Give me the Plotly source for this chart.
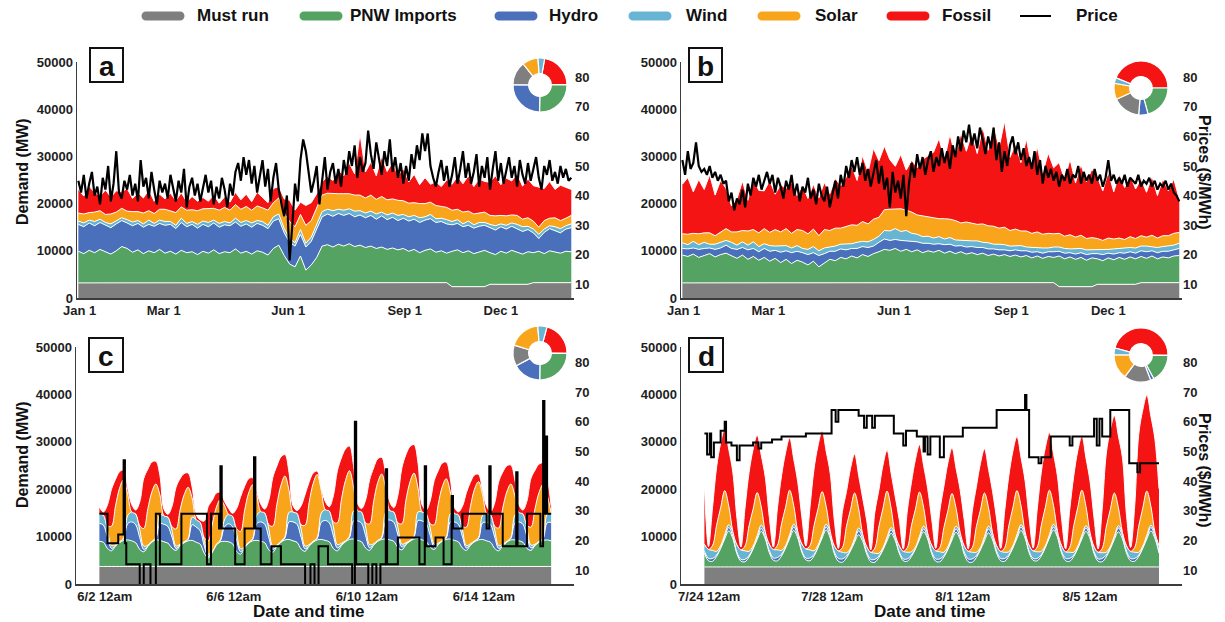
import plotly.graph_objects as go

W, H = 1225, 622
FONT = "Liberation Sans, Arial, sans-serif"

names = ["Must run", "PNW Imports", "Hydro", "Wind", "Solar", "Fossil"]
colors = ["#7f7f7f", "#55a362", "#4a6fbb", "#67b5d3", "#f8a51b", "#f41414"]
PRICE_COLOR = "#000000"

# ---------------- panel a / b : whole year, sampled every 4 days ----------------
days = list(range(0, 365, 4))          # 92 samples
price_days = list(range(0, 365, 2))    # 183 samples
year_ticks = [1, 63, 155, 241, 312]
year_labels = ["Jan 1", "Mar 1", "Jun 1", "Sep 1", "Dec 1"]
demand_ticks = [0, 10000, 20000, 30000, 40000, 50000]
demand_labels = ["0", "10000", "20000", "30000", "40000", "50000"]
price_ticks = [10, 20, 30, 40, 50, 60, 70, 80]

must_run_year = [
    3200, 3200, 3200, 3200, 3200, 3200, 3200, 3200,
    3350, 3350, 3350, 3350, 3350, 3350, 3350,
    3350, 3350, 3350, 3350, 3350, 3350, 3350, 3350,
    3350, 3350, 3350, 3350, 3350, 3350, 3350,
    3350, 3350, 3350, 3350, 3350, 3350, 3350, 3350,
    3350, 3350, 3350, 3350, 3350, 3350, 3350, 3350,
    3350, 3350, 3350, 3350, 3350, 3350, 3350,
    3350, 3350, 3350, 3350, 3350, 3350, 3350, 3350,
    3250, 3250, 3250, 3250, 3250, 3250, 3250, 3250,
    2400, 2400, 2400, 2400, 2400, 2400, 2400,
    2900, 2900, 2900, 2900, 2900, 2900, 2900, 2900,
    3250, 3250, 3250, 3250, 3250, 3250, 3250, 3250,
]

pnw_a = [
    6700, 6200, 6900, 6400, 7100, 6600, 6100, 6800,
    7550, 7150, 6350, 6850, 6050, 6650, 6250,
    6950, 6150, 6550, 5950, 6750, 6250, 6450, 5850,
    6550, 6150, 6850, 6050, 6450, 6250, 7050,
    6150, 6550, 5950, 6650, 6350, 5750, 7150, 7850,
    5650, 3850, 3250, 5550, 2550, 3650, 5250, 7650,
    7950, 7450, 8050, 7650, 8150, 7550, 7850,
    7350, 7650, 7150, 7450, 6950, 7250, 6850, 7150,
    6650, 7050, 6350, 6850, 7150, 6450, 6750, 6250,
    7500, 7800, 7200, 7600, 7000, 7400, 7700,
    6700, 6300, 7000, 6600, 7200, 6800, 6400, 6900,
    6350, 6650, 6150, 6750, 6450, 6250, 6650, 6550,
]
hydro_a = [
    5700, 5700, 5800, 5700, 5700, 5600, 5600, 5700,
    5500, 5400, 5600, 5600, 5600, 5600, 5600,
    5500, 5900, 5700, 5400, 5900, 5500, 5800, 5600,
    5700, 5600, 5700, 5600, 5700, 5700, 5700,
    5700, 5800, 5700, 5800, 5700, 5600, 5800, 5600,
    4800, 4600, 4400, 4600, 4900, 5000, 5900, 6200,
    6500, 6500, 6500, 6500, 6400, 6300, 6400,
    6300, 6500, 6200, 6600, 6300, 6500, 6200, 6400,
    6400, 6400, 6400, 6400, 6400, 6300, 6200, 6200,
    5600, 5600, 5500, 5400, 5400, 5400, 5300,
    5300, 5200, 5200, 5100, 5100, 5000, 4800, 4700,
    4200, 2700, 4500, 4700, 4600, 4300, 4700, 5100,
]
wind_a = [
    700, 800, 600, 900, 700, 600, 800, 700,
    600, 700, 800, 600, 700, 900, 600,
    700, 800, 600, 700, 900, 700, 600, 800,
    700, 900, 600, 800, 700, 600, 800,
    800, 700, 900, 600, 800, 700, 900, 1000,
    900, 800, 700, 1000, 800, 900, 1000, 1100,
    1000, 1200, 900, 1100, 1000, 1200, 900,
    1000, 900, 1100, 800, 1000, 900, 1100, 800,
    900, 800, 1000, 700, 900, 800, 700, 900,
    700, 800, 600, 900, 700, 800, 600,
    700, 900, 600, 800, 700, 900, 1000, 700,
    800, 900, 700, 600, 800, 900, 700, 800,
]
solar_a = [
    1700, 1900, 1600, 2000, 1800, 1700, 2100, 1800,
    2000, 1800, 2200, 1900, 2300, 2000, 2100,
    2300, 2600, 2200, 2700, 2400, 2800, 2500, 2900,
    2600, 2900, 2500, 2800, 3000, 2700, 2900,
    2800, 3000, 2700, 3100, 2900, 3200, 3000, 3400,
    3300, 3600, 3400, 3200, 3800, 3500, 3600, 3500,
    3400, 3600, 3300, 3500, 3200, 3400, 3300,
    3200, 3400, 3100, 3300, 3200, 3000, 3200, 2900,
    2900, 2700, 3000, 2800, 2600, 2800, 2500, 2600,
    2400, 2200, 2500, 2100, 2300, 2000, 2200,
    1900, 2100, 1800, 2000, 1700, 1900, 1600, 1800,
    1700, 1500, 1800, 1600, 1900, 1700, 1600, 1800,
]
fossil_a = [
    5000, 3800, 5500, 4200, 3000, 5200, 3600, 4500,
    3500, 4800, 2800, 4000, 3200, 4400, 2600,
    3200, 2200, 3800, 2500, 3000, 1800, 2800, 2000,
    2400, 1600, 2800, 1500, 2200, 1700, 2600,
    2000, 2600, 1800, 2900, 2200, 1600, 3000, 2400,
    3000, 4500, 3500, 2600, 4200, 3800, 3000, 2800,
    3500, 2800, 5000, 3800, 6500, 4500, 13000,
    5500, 7000, 5000, 8500, 6000, 7800, 5200, 6800,
    4500, 6000, 4000, 5500, 3800, 5000, 4200, 5800,
    5500, 7000, 6000, 7500, 5800, 7200, 6500,
    7000, 8500, 6500, 8000, 7200, 8800, 7000, 8200,
    7500, 8500, 6800, 7800, 6000, 7500, 6500, 5500,
]
price_a = [
    45, 41, 47, 39, 44, 48, 40, 43, 37, 46, 42, 50, 38, 44, 55, 41,
    39, 45, 42, 47, 40, 44, 38, 52, 43, 46, 39, 48, 42, 37, 45, 41,
    44, 39, 47, 42, 38, 45, 41, 49, 36, 43, 46, 40, 44, 38, 42, 47,
    41, 45, 37, 43, 39, 46, 42, 36, 44, 40, 48, 51, 45, 53, 47, 52,
    44, 50, 41, 47, 52, 43, 49, 38, 46, 51, 42, 37, 33, 40, 18, 30,
    44, 38, 52, 59, 55, 48, 41, 45, 50, 37, 46, 53, 42, 48, 51, 44,
    49, 43, 52, 47, 55, 50, 57, 46, 53, 48, 51, 62, 54, 49, 58, 52,
    47, 55, 50, 59, 48, 53, 46, 51, 44, 50, 45, 54, 49, 57, 52, 61,
    55, 61, 50, 46, 43, 48, 52, 45, 50, 43, 47, 53, 44, 49, 55, 46,
    51, 44, 48, 54, 43, 50, 46, 53, 42, 49, 55, 45, 51, 44, 48, 53,
    46, 50, 43, 52, 47, 44, 51, 45, 49, 53, 46, 42, 50, 47, 52, 45,
    48, 44, 50, 46, 49, 45, 46,
]

pnw_b = [
    5900, 5600, 6100, 5400, 5800, 6200, 5500, 6000,
    6150, 5650, 5050, 5750, 4850, 5450, 4650,
    5250, 4450, 5050, 4150, 4850, 3950, 4650, 4250,
    3650, 4450, 3250, 4150, 4850, 4550, 5250,
    4950, 5550, 5150, 5850, 5450, 6050, 6450, 6950,
    6750, 7150, 6550, 6950, 6450, 6850, 6250, 6650,
    6350, 6750, 6150, 6550, 6050, 6450, 5950,
    6250, 5850, 6150, 5650, 5950, 5550, 5850, 5450,
    5850, 5450, 5750, 5250, 5650, 5150, 5550, 5350,
    6500, 5900, 6300, 5800, 6200, 5600, 6100,
    5400, 5000, 5600, 5200, 5700, 5300, 5800, 5400,
    5550, 5150, 5650, 5050, 5450, 5250, 5650, 5750,
]
hydro_b = [
    1400, 1600, 1300, 1700, 1500, 1200, 1600, 1400,
    1700, 1500, 1900, 1600, 2000, 1700, 1800,
    1900, 2100, 1700, 2200, 1800, 2300, 1900, 2000,
    2200, 1800, 2400, 1900, 1700, 2000, 1800,
    1900, 1600, 2000, 1700, 1900, 1600, 2000, 2200,
    2100, 1900, 2300, 1800, 2100, 1700, 2000, 1600,
    1700, 1400, 1800, 1500, 1600, 1300, 1500,
    1300, 1500, 1200, 1400, 1100, 1300, 1000, 1200,
    1100, 1300, 1000, 1200, 900, 1100, 1000, 1200,
    1000, 1200, 900, 1100, 1000, 1200, 900,
    1100, 1300, 1000, 1200, 1000, 1300, 1100, 1200,
    1200, 1400, 1100, 1300, 1200, 1400, 1300, 1500,
]
wind_b = [
    1200, 900, 1400, 1000, 1300, 800, 1100, 1200,
    1000, 1300, 900, 1200, 1000, 1400, 1100,
    1000, 1200, 900, 1300, 1100, 1000, 1200, 900,
    1100, 1300, 1000, 1200, 900, 1100, 1000,
    1200, 1000, 1300, 1100, 1200, 1400, 1300, 1800,
    2000, 2300, 1900, 2200, 1800, 1600, 1400, 1500,
    1300, 1500, 1200, 1400, 1300, 1100, 1300,
    1200, 1400, 1100, 1300, 1000, 1200, 1100, 1000,
    900, 1100, 800, 1000, 900, 1100, 800, 1000,
    900, 1000, 800, 1100, 900, 1000, 800,
    900, 1000, 800, 1100, 900, 1000, 900, 1100,
    1000, 1200, 900, 1100, 1000, 1200, 1000, 1100,
]
solar_b = [
    1900, 2200, 1700, 2300, 2000, 2400, 1800, 2100,
    2500, 2200, 2800, 2400, 3000, 2600, 2900,
    3200, 2800, 3500, 3000, 3600, 3100, 3400, 3800,
    3300, 3700, 3200, 3900, 3500, 3800, 3400,
    3700, 4000, 3600, 4200, 3800, 4300, 4000, 4400,
    4600, 4200, 4800, 4300, 4500, 4100, 4400, 4000,
    4200, 3800, 4300, 3900, 4100, 3700, 4000,
    3800, 3500, 3900, 3600, 3800, 3400, 3700, 3300,
    3500, 3100, 3400, 3000, 3300, 2900, 3100, 2800,
    2900, 2600, 3000, 2500, 2800, 2400, 2600,
    2300, 2000, 2400, 2100, 2200, 1900, 2300, 2000,
    2200, 1900, 2400, 2000, 2300, 2100, 2500, 2300,
]
fossil_b = [
    10500, 12000, 8800, 11500, 9200, 12300, 8600, 11000,
    8500, 5500, 7000, 10500, 6500, 11000, 9000,
    8000, 11000, 7500, 10000, 8500, 10800, 7200, 9500,
    7500, 9500, 8000, 10000, 7800, 10500, 9000,
    10500, 12500, 9500, 14000, 11000, 15000, 12000, 13500,
    10500, 9000, 11500, 8500, 11000, 10000, 12000, 13000,
    14000, 17000, 12500, 18000, 13500, 19000, 15000,
    19000, 15000, 20500, 16000, 21500, 17000, 22500, 15500,
    18000, 14500, 19500, 14000, 18000, 13000, 17000, 14000,
    15000, 12000, 16000, 11500, 15000, 12000, 14500,
    13000, 10500, 14000, 10000, 13500, 11000, 13000, 10500,
    12000, 9500, 12500, 9000, 12000, 9500, 11500, 7000,
]
price_b = [
    52, 47, 55, 49, 51, 58, 50, 48, 49, 47, 50, 46, 48, 45, 47, 44,
    45, 38, 41, 35, 39, 37, 42, 36, 44, 40, 46, 43, 47, 42, 45, 48,
    44, 47, 41, 46, 43, 39, 45, 42, 47, 40, 44, 38, 43, 41, 46, 39,
    42, 37, 44, 40, 38, 43, 36, 41, 45, 39, 47, 43, 50, 46, 52, 48,
    53, 47, 51, 45, 49, 43, 47, 52, 44, 50, 42, 46, 36, 48, 41, 45,
    39, 47, 33, 44, 51, 46, 54, 49, 53, 47, 52, 55, 48, 53, 50, 56,
    51, 55, 49, 57, 53, 60, 55, 62, 58, 64, 57, 61, 56, 63, 59, 54,
    60, 56, 63, 52, 58, 48, 55, 50, 57, 60, 54, 58, 52, 56, 50, 53,
    49, 55, 47, 52, 44, 50, 46, 49, 45, 48, 43, 47, 45, 49, 44, 47,
    46, 50, 44, 48, 45, 47, 44, 49, 45, 47, 43, 46, 52, 45, 47, 44,
    46, 44, 47, 43, 46, 45, 44, 47, 43, 45, 44, 46, 43, 45, 42, 44,
    43, 45, 42, 44, 41, 40, 38,
]

# ---------------- panel c / d : two weeks, every 3 hours ----------------
hours = list(range(0, 337, 3))   # 113 samples
c_ticks = [4, 100, 199, 286]
c_labels = ["6/2 12am", "6/6 12am", "6/10 12am", "6/14 12am"]
d_ticks = [3.5, 94.5, 191, 285]
d_labels = ["7/24 12am", "7/28 12am", "8/1 12am", "8/5 12am"]

must_c = [
    3700, 3700, 3700, 3700, 3700, 3700, 3700, 3700,
    3700, 3700, 3700, 3700, 3700, 3700, 3700, 3700,
    3700, 3700, 3700, 3700, 3700, 3700, 3700, 3700,
    3700, 3700, 3700, 3700, 3700, 3700, 3700, 3700,
    3700, 3700, 3700, 3700, 3700, 3700, 3700, 3700,
    3700, 3700, 3700, 3700, 3700, 3700, 3700, 3700,
    3700, 3700, 3700, 3700, 3700, 3700, 3700, 3700,
    3700, 3700, 3700, 3700, 3700, 3700, 3700, 3700,
    3700, 3700, 3700, 3700, 3700, 3700, 3700, 3700,
    3700, 3700, 3700, 3700, 3700, 3700, 3700, 3700,
    3700, 3700, 3700, 3700, 3700, 3700, 3700, 3700,
    3700, 3700, 3700, 3700, 3700, 3700, 3700, 3700,
    3700, 3700, 3700, 3700, 3700, 3700, 3700, 3700,
    3700, 3700, 3700, 3700, 3700, 3700, 3700, 3700,
    3700,
]
pnw_c = [
    5300, 5100, 3800, 3300, 4300, 5000, 5500, 5600,
    5400, 5000, 3600, 3100, 4200, 5100, 5600, 5500,
    5200, 4900, 3900, 3400, 4400, 5000, 5400, 5500,
    5100, 4700, 2800, 1800, 3000, 4500, 5200, 5300,
    5200, 4800, 3200, 2600, 3900, 4900, 5400, 5500,
    5300, 5000, 3500, 3000, 4200, 5100, 5600, 5700,
    5400, 5100, 3700, 3200, 4300, 5100, 5600, 5700,
    5500, 5200, 3800, 3300, 4400, 5200, 5700, 5800,
    5500, 5200, 3900, 3400, 4500, 5300, 5700, 5800,
    5600, 5300, 4000, 3500, 4600, 5300, 5800, 5900,
    5600, 5300, 4100, 3600, 4600, 5300, 5700, 5800,
    5500, 5200, 3900, 3400, 4500, 5200, 5600, 5700,
    5400, 5100, 3800, 3300, 4400, 5100, 5600, 5600,
    5400, 5100, 3800, 3400, 4400, 5100, 5500, 5600,
    5400,
]
hydro_c = [
    3800, 3600, 2400, 500, 100, 100, 300, 3400,
    4000, 3800, 2500, 500, 100, 100, 300, 3500,
    3700, 3500, 2300, 400, 100, 100, 300, 3300,
    3200, 2800, 1500, 300, 100, 100, 200, 3000,
    3800, 3600, 2400, 500, 100, 100, 300, 3500,
    4100, 3900, 2600, 600, 100, 100, 400, 3700,
    4000, 3800, 2500, 500, 100, 100, 300, 3600,
    4200, 4000, 2700, 600, 200, 100, 400, 3800,
    4100, 3900, 2600, 500, 100, 100, 300, 3700,
    4200, 4000, 2700, 600, 200, 100, 400, 3800,
    4000, 3800, 2500, 500, 100, 100, 300, 3600,
    3900, 3700, 2400, 500, 100, 100, 300, 3500,
    3900, 3700, 2400, 500, 100, 100, 300, 3500,
    4000, 3800, 2500, 500, 100, 100, 300, 3600,
    3900,
]
wind_c = [
    1900, 2100, 1500, 600, 200, 100, 200, 1700,
    2100, 2300, 1700, 700, 200, 100, 200, 1900,
    1800, 2000, 1400, 500, 200, 100, 200, 1600,
    1600, 1800, 1200, 500, 100, 100, 200, 1500,
    2000, 2200, 1600, 600, 200, 100, 200, 1800,
    2200, 2400, 1800, 700, 200, 100, 300, 2000,
    2100, 2300, 1700, 600, 200, 100, 200, 1900,
    2300, 2500, 1900, 700, 300, 100, 300, 2100,
    2200, 2400, 1800, 700, 200, 100, 200, 2000,
    2000, 2200, 1600, 600, 200, 100, 200, 1800,
    1900, 2100, 1500, 600, 200, 100, 200, 1700,
    1800, 2000, 1400, 500, 200, 100, 200, 1600,
    1900, 2100, 1500, 600, 200, 100, 200, 1700,
    2000, 2200, 1600, 600, 200, 100, 200, 1800,
    2000,
]
solar_c = [
    0, 0, 900, 4100, 8200, 11300, 12300, 4600,
    0, 0, 800, 3700, 7600, 10400, 11300, 4200,
    0, 0, 800, 3600, 7200, 9900, 10800, 4000,
    0, 0, 600, 2800, 5700, 7800, 8500, 3100,
    0, 0, 800, 3700, 7600, 10400, 11300, 4200,
    0, 0, 900, 4200, 8600, 11800, 12800, 4700,
    0, 0, 900, 4400, 8900, 12200, 13300, 4900,
    0, 0, 1000, 4600, 9200, 12700, 13800, 5100,
    0, 0, 900, 4400, 8900, 12200, 13300, 4900,
    0, 0, 900, 4300, 9000, 12300, 13300, 5000,
    0, 0, 900, 4100, 8200, 11300, 12300, 4600,
    0, 0, 800, 3900, 7900, 10900, 11800, 4400,
    0, 0, 800, 3700, 7600, 10400, 11300, 4200,
    0, 0, 800, 3800, 7500, 10300, 11300, 4100,
    0,
]
fossil_c = [
    1500, 700, 4400, 7800, 5600, 3500, 2000, 1300,
    1600, 800, 5000, 10600, 8400, 6300, 4800, 4100,
    1400, 600, 4300, 8800, 6600, 4500, 3000, 2300,
    1000, 500, 3500, 7300, 5100, 3000, 1500, 800,
    1300, 600, 4200, 7300, 5100, 3000, 1500, 800,
    1600, 800, 5200, 10300, 8100, 6000, 4500, 3800,
    1300, 600, 4000, 6500, 4300, 2200, 700, 500,
    1700, 900, 5500, 11000, 8800, 6700, 5200, 4500,
    1500, 700, 4800, 9300, 7100, 5000, 3500, 2800,
    1800, 900, 5800, 11800, 9600, 7500, 6000, 5300,
    1500, 700, 4800, 9300, 7100, 5000, 3500, 2800,
    1300, 600, 4200, 7300, 5100, 3000, 1500, 800,
    1500, 700, 4900, 9800, 7600, 5500, 4000, 3300,
    1600, 800, 5100, 10300, 8100, 6000, 4500, 3800,
    1500,
]
price_c_hours = [0, 6, 14, 18, 19, 20, 30, 33, 38, 42, 45, 61, 80, 83, 89, 90, 91,
                 101, 108, 115, 116, 120, 128, 135, 153, 157, 160, 163, 170, 188,
                 190, 191, 200, 203, 206, 209, 213, 214, 222, 238, 242, 243, 250,
                 256, 262, 263, 270, 288, 290, 291, 300, 310, 311, 318, 328, 330,
                 331, 332, 333, 336]
price_c = [29, 19, 22, 47, 19, 12, 5, 12, 5, 29, 12, 29, 12, 29, 24, 45, 24,
           12, 24, 48, 24, 12, 18, 12, 5, 12, 5, 18, 12, 5,
           60, 12, 5, 12, 5, 12, 44, 12, 21, 12, 45, 18, 21,
           12, 35, 24, 29, 24, 45, 29, 18, 43, 18, 29, 18, 67,
           29, 55, 29, 29]

must_d = [
    3600, 3600, 3600, 3600, 3600, 3600, 3600, 3600,
    3600, 3600, 3600, 3600, 3600, 3600, 3600, 3600,
    3600, 3600, 3600, 3600, 3600, 3600, 3600, 3600,
    3600, 3600, 3600, 3600, 3600, 3600, 3600, 3600,
    3600, 3600, 3600, 3600, 3600, 3600, 3600, 3600,
    3600, 3600, 3600, 3600, 3600, 3600, 3600, 3600,
    3600, 3600, 3600, 3600, 3600, 3600, 3600, 3600,
    3600, 3600, 3600, 3600, 3600, 3600, 3600, 3600,
    3600, 3600, 3600, 3600, 3600, 3600, 3600, 3600,
    3600, 3600, 3600, 3600, 3600, 3600, 3600, 3600,
    3600, 3600, 3600, 3600, 3600, 3600, 3600, 3600,
    3600, 3600, 3600, 3600, 3600, 3600, 3600, 3600,
    3600, 3600, 3600, 3600, 3600, 3600, 3600, 3600,
    3600, 3600, 3600, 3600, 3600, 3600, 3600, 3600,
    3600,
]
pnw_d = [
    2900, 1300, 1200, 2200, 3900, 5900, 7600, 6000,
    2800, 1200, 1100, 2100, 3800, 5800, 7500, 5900,
    3000, 1400, 1300, 2300, 4000, 6000, 7700, 6100,
    3100, 1500, 1300, 2300, 4100, 6100, 7800, 6100,
    2800, 1200, 1000, 1900, 3400, 5200, 6800, 5400,
    2700, 1100, 1000, 2000, 3600, 5500, 7100, 5600,
    2900, 1300, 1200, 2200, 3800, 5800, 7400, 5900,
    2800, 1200, 1100, 2100, 3700, 5700, 7300, 5800,
    2700, 1100, 1000, 2000, 3600, 5500, 7200, 5700,
    2900, 1300, 1200, 2300, 4000, 6000, 7700, 6100,
    3000, 1400, 1300, 2300, 4100, 6100, 7800, 6200,
    2900, 1300, 1200, 2200, 3900, 5900, 7500, 6000,
    2800, 1200, 1100, 2100, 3800, 5800, 7400, 5900,
    2900, 1300, 1200, 2200, 3900, 5900, 7600, 6000,
    2900,
]
hydro_d = [
    400, 500, 600, 300, 200, 400, 700, 500,
    300, 400, 500, 300, 200, 300, 600, 400,
    400, 500, 700, 400, 200, 400, 700, 500,
    300, 400, 600, 300, 100, 300, 600, 400,
    400, 600, 700, 400, 200, 400, 800, 600,
    400, 500, 600, 300, 200, 400, 700, 500,
    300, 400, 500, 300, 100, 300, 600, 400,
    400, 500, 600, 300, 200, 400, 700, 500,
    500, 600, 700, 400, 200, 500, 800, 600,
    400, 500, 600, 300, 200, 400, 700, 500,
    300, 400, 500, 300, 100, 300, 600, 400,
    400, 500, 600, 300, 200, 400, 700, 500,
    400, 500, 700, 400, 200, 400, 800, 600,
    400, 500, 600, 300, 200, 400, 700, 500,
    400,
]
wind_d = [
    1500, 1900, 1700, 800, 400, 500, 600, 1000,
    1600, 2000, 1800, 900, 400, 500, 700, 1100,
    1400, 1800, 1600, 800, 300, 400, 600, 900,
    1500, 1900, 1700, 800, 400, 500, 600, 1000,
    1300, 1600, 1400, 700, 300, 400, 600, 900,
    1200, 1500, 1300, 600, 300, 400, 500, 800,
    1300, 1600, 1400, 700, 300, 400, 600, 900,
    1400, 1700, 1500, 700, 400, 500, 600, 1000,
    1300, 1600, 1400, 700, 300, 400, 600, 900,
    1200, 1500, 1300, 600, 300, 400, 500, 800,
    1300, 1600, 1400, 700, 300, 400, 600, 900,
    1200, 1400, 1300, 600, 300, 400, 500, 800,
    1100, 1400, 1200, 600, 300, 300, 500, 800,
    1200, 1500, 1300, 600, 300, 400, 500, 800,
    1200,
]
solar_d = [
    0, 0, 1000, 5500, 8000, 9300, 4000, 0,
    0, 0, 1000, 5400, 7800, 9100, 3900, 0,
    0, 0, 1000, 5600, 8100, 9400, 4000, 0,
    0, 0, 900, 5300, 7700, 9000, 3800, 0,
    0, 0, 1000, 5600, 8200, 9600, 4100, 0,
    0, 0, 1100, 5700, 8300, 9700, 4100, 0,
    0, 0, 1000, 5500, 8000, 9300, 4000, 0,
    0, 0, 900, 5200, 7600, 8900, 3800, 0,
    0, 0, 1000, 5400, 7900, 9200, 3900, 0,
    0, 0, 1000, 5500, 8000, 9300, 4000, 0,
    0, 0, 1000, 5500, 8100, 9400, 4000, 0,
    0, 0, 1000, 5600, 8200, 9500, 4100, 0,
    0, 0, 900, 5300, 7800, 9100, 3800, 0,
    0, 0, 1000, 5500, 8000, 9300, 4000, 0,
    0,
]
fossil_d = [
    12500, 600, 8000, 12200, 13600, 13100, 11900, 12500,
    5700, 600, 8000, 11200, 12600, 12100, 10900, 11500,
    5600, 500, 7900, 10100, 11500, 11000, 9800, 10400,
    5700, 600, 8000, 11900, 13300, 12800, 11600, 12200,
    5400, 500, 7600, 7300, 8700, 8200, 7000, 7600,
    5400, 500, 7600, 7700, 9100, 8600, 7400, 8000,
    5500, 500, 7800, 9100, 10500, 10000, 8800, 9400,
    5500, 500, 7700, 8700, 10100, 9600, 8400, 9000,
    5500, 500, 7700, 8400, 9800, 9300, 8100, 8700,
    5600, 600, 7900, 10500, 11900, 11400, 10200, 10800,
    5700, 600, 8000, 11200, 12600, 12100, 10900, 11500,
    5600, 600, 7900, 10500, 11900, 11400, 10200, 10800,
    6000, 700, 8300, 15400, 16800, 16300, 15100, 15700,
    6300, 800, 8600, 19300, 20700, 20200, 19000, 19600,
    12000,
]
price_d_hours = [0, 2, 4, 5, 7, 12, 15, 16, 20, 24, 26, 36, 40, 42, 50, 57, 75, 94,
                 97, 99, 114, 118, 120, 124, 126, 137, 140, 147, 149, 157, 162, 163,
                 165, 167, 174, 177, 191, 216, 237, 238, 240, 247, 249, 256, 270,
                 272, 288, 290, 292, 294, 300, 314, 320, 322, 336]
price_d = [56, 49, 56, 48, 53, 57, 60, 53, 52, 47, 52, 53, 51, 53, 54, 55, 56, 64,
           60, 64, 62, 58, 62, 58, 62, 62, 56, 52, 57, 55, 50, 55,
           49, 55, 48, 55, 58, 64, 69, 64, 48, 46, 48, 55, 52,
           55, 61, 52, 61, 55, 64, 46, 43, 46, 46]

# donut shares: order clockwise Fossil, PNW Imports, Hydro, Must run, Solar, Wind
donut_names = ["Fossil", "PNW Imports", "Hydro", "Must run", "Solar", "Wind"]
donut_colors = ["#f41414", "#55a362", "#4a6fbb", "#7f7f7f", "#f8a51b", "#67b5d3"]
donut_a = [22, 25.5, 25, 14, 9.5, 4]
donut_b = [43.9, 20.8, 5.6, 16.7, 9.7, 3.3]
donut_c = [21, 25, 17, 12.5, 19, 5.5]
donut_d = [46, 17, 2, 16, 15, 4]

# ---------------- figure ----------------
fig = go.Figure()


def px_x(p):
    return p / W


def px_y(p):
    return 1 - p / H


def add_stack(xv, layers, xa, ya, group, shape):
    for nm, vals, col in zip(names, layers, colors):
        fig.add_trace(go.Scatter(
            x=xv, y=vals, xaxis=xa, yaxis=ya, stackgroup=group, mode="lines",
            line=dict(color="white", width=1, shape=shape), fillcolor=col,
            name=nm, showlegend=False, hoverinfo="skip"))


def add_price(xv, yv, xa, ya, shape, width):
    fig.add_trace(go.Scatter(
        x=xv, y=yv, xaxis=xa, yaxis=ya, mode="lines",
        line=dict(color=PRICE_COLOR, width=width, shape=shape),
        name="Price", showlegend=False, hoverinfo="skip"))


add_stack(days, [must_run_year, pnw_a, hydro_a, wind_a, solar_a, fossil_a], "x", "y", "a", "linear")
add_price(price_days, price_a, "x", "y2", "linear", 2.2)
add_stack(days, [must_run_year, pnw_b, hydro_b, wind_b, solar_b, fossil_b], "x2", "y3", "b", "linear")
add_price(price_days, price_b, "x2", "y4", "linear", 2.2)
add_stack(hours, [must_c, pnw_c, hydro_c, wind_c, solar_c, fossil_c], "x3", "y5", "c", "spline")
add_price(price_c_hours, price_c, "x3", "y6", "hv", 2)
add_stack(hours, [must_d, pnw_d, hydro_d, wind_d, solar_d, fossil_d], "x4", "y7", "d", "spline")
add_price(price_d_hours, price_d, "x4", "y8", "hv", 2)

tickfont = dict(family=FONT, size=13, color="#1e1e1e", weight="bold")
AX_COL = "#3c3c3c"

panels = [
    ("xaxis", "yaxis", "yaxis2", (77, 574), (62, 298), [-1, 366], year_ticks, year_labels),
    ("xaxis2", "yaxis3", "yaxis4", (681, 1182), (62, 298), [-1, 366], year_ticks, year_labels),
    ("xaxis3", "yaxis5", "yaxis6", (76, 574), (347, 584), [-17.4, 353], c_ticks, c_labels),
    ("xaxis4", "yaxis7", "yaxis8", (681, 1182), (347, 584), [-17.3, 353], d_ticks, d_labels),
]
lay = {}
for xn, yl, yr, (x0, x1), (y0, y1), xr, tv, tt in panels:
    xid = "x" + xn[5:]
    yid = "y" + yl[5:]
    lay[xn] = dict(domain=[px_x(x0), px_x(x1)], range=xr, anchor=yid, tickvals=tv, ticktext=tt,
                   showline=True, linecolor=AX_COL, linewidth=1.5, ticks="", showgrid=False,
                   zeroline=False, tickfont=tickfont, automargin=False)
    lay[yl] = dict(domain=[px_y(y1), px_y(y0)], range=[0, 50000], anchor=xid,
                   tickvals=demand_ticks, ticktext=demand_labels,
                   showline=True, linecolor=AX_COL, linewidth=1.5, ticks="", showgrid=False,
                   zeroline=False, tickfont=tickfont, automargin=False)
    lay[yr] = dict(overlaying=yid, side="right", anchor=xid, range=[5.3, 85.2],
                   tickvals=price_ticks, showline=False, ticks="",
                   showgrid=False, zeroline=False, tickfont=tickfont, automargin=False)

# donuts
donut_spec = [(donut_a, 10, 540, 85), (donut_b, -68, 1141, 88),
              (donut_c, 15, 540, 353), (donut_d, -75, 1141, 355)]
R = 27
for vals, rot, cx, cy in donut_spec:
    fig.add_trace(go.Pie(
        values=vals, labels=donut_names, sort=False, direction="clockwise", rotation=rot,
        hole=0.42, textinfo="none", hoverinfo="skip", showlegend=False,
        marker=dict(colors=donut_colors, line=dict(color="white", width=1.2)),
        domain=dict(x=[px_x(cx - R), px_x(cx + R)], y=[px_y(cy + R), px_y(cy - R)])))

shapes = []
annotations = []

# panel letter boxes
for letter, bx0, by0, bx1, by1 in [("a", 90, 48, 123, 82), ("b", 689, 48, 722, 82),
                                   ("c", 89, 338, 123, 372), ("d", 689, 338, 723, 372)]:
    shapes.append(dict(type="rect", xref="paper", yref="paper", x0=px_x(bx0), x1=px_x(bx1),
                       y0=px_y(by1), y1=px_y(by0), line=dict(color="#111", width=2),
                       fillcolor="white", layer="above"))
    annotations.append(dict(text=letter, x=px_x((bx0 + bx1) / 2), y=px_y((by0 + by1) / 2 + 1),
                            xref="paper", yref="paper", showarrow=False, xanchor="center",
                            yanchor="middle",
                            font=dict(family=FONT, size=28, color="#111", weight="bold")))

title_font = dict(family=FONT, size=16, color="#111", weight="bold")
for ty in (172, 455):
    annotations.append(dict(text="Demand (MW)", x=px_x(22), y=px_y(ty), xref="paper", yref="paper",
                            showarrow=False, textangle=-90, xanchor="center", yanchor="middle",
                            font=title_font))
for ty in (172, 470):
    annotations.append(dict(text="Prices ($/MWh)", x=px_x(1205), y=px_y(ty), xref="paper",
                            yref="paper", showarrow=False, textangle=90, xanchor="center",
                            yanchor="middle", font=title_font))
for tx in (308, 929):
    annotations.append(dict(text="Date and time", x=px_x(tx), y=px_y(611), xref="paper",
                            yref="paper", showarrow=False, xanchor="center", yanchor="middle",
                            font=dict(family=FONT, size=17, color="#111", weight="bold")))

# legend (pills + texts)
legend_items = [("Must run", 163, 195), ("PNW Imports", 321, 348), ("Hydro", 516, 547),
                ("Wind", 650, 684), ("Solar", 779, 813), ("Fossil", 908, 940)]
pill = ("M -17,-4.5 L 17,-4.5 C 19.5,-4.5 21.5,-2.5 21.5,0 C 21.5,2.5 19.5,4.5 17,4.5 "
        "L -17,4.5 C -19.5,4.5 -21.5,2.5 -21.5,0 C -21.5,-2.5 -19.5,-4.5 -17,-4.5 Z")
LEG_Y = 16
leg_font = dict(family=FONT, size=17, color="#111", weight="bold")
for (nm, cx, tx), col in zip(legend_items, colors):
    shapes.append(dict(type="path", xref="paper", yref="paper", xsizemode="pixel",
                       ysizemode="pixel", xanchor=px_x(cx), yanchor=px_y(LEG_Y), path=pill,
                       fillcolor=col, line=dict(width=0)))
    annotations.append(dict(text=nm, x=px_x(tx), y=px_y(LEG_Y), xref="paper", yref="paper",
                            showarrow=False, xanchor="left", yanchor="middle", font=leg_font))
shapes.append(dict(type="line", xref="paper", yref="paper", x0=px_x(1020), x1=px_x(1051),
                   y0=px_y(LEG_Y), y1=px_y(LEG_Y), line=dict(color=PRICE_COLOR, width=2)))
annotations.append(dict(text="Price", x=px_x(1074), y=px_y(LEG_Y), xref="paper", yref="paper",
                        showarrow=False, xanchor="left", yanchor="middle", font=leg_font))

fig.update_layout(width=W, height=H, margin=dict(l=0, r=0, t=0, b=0, autoexpand=False),
                  paper_bgcolor="white", plot_bgcolor="white", showlegend=False,
                  hovermode=False, shapes=shapes, annotations=annotations, **lay)

# the page's default 8px body margin would shift the figure; remove it
fig.write_html("out.html", config={"displayModeBar": False, "staticPlot": True},
               post_script="document.body.style.margin='0px';")
